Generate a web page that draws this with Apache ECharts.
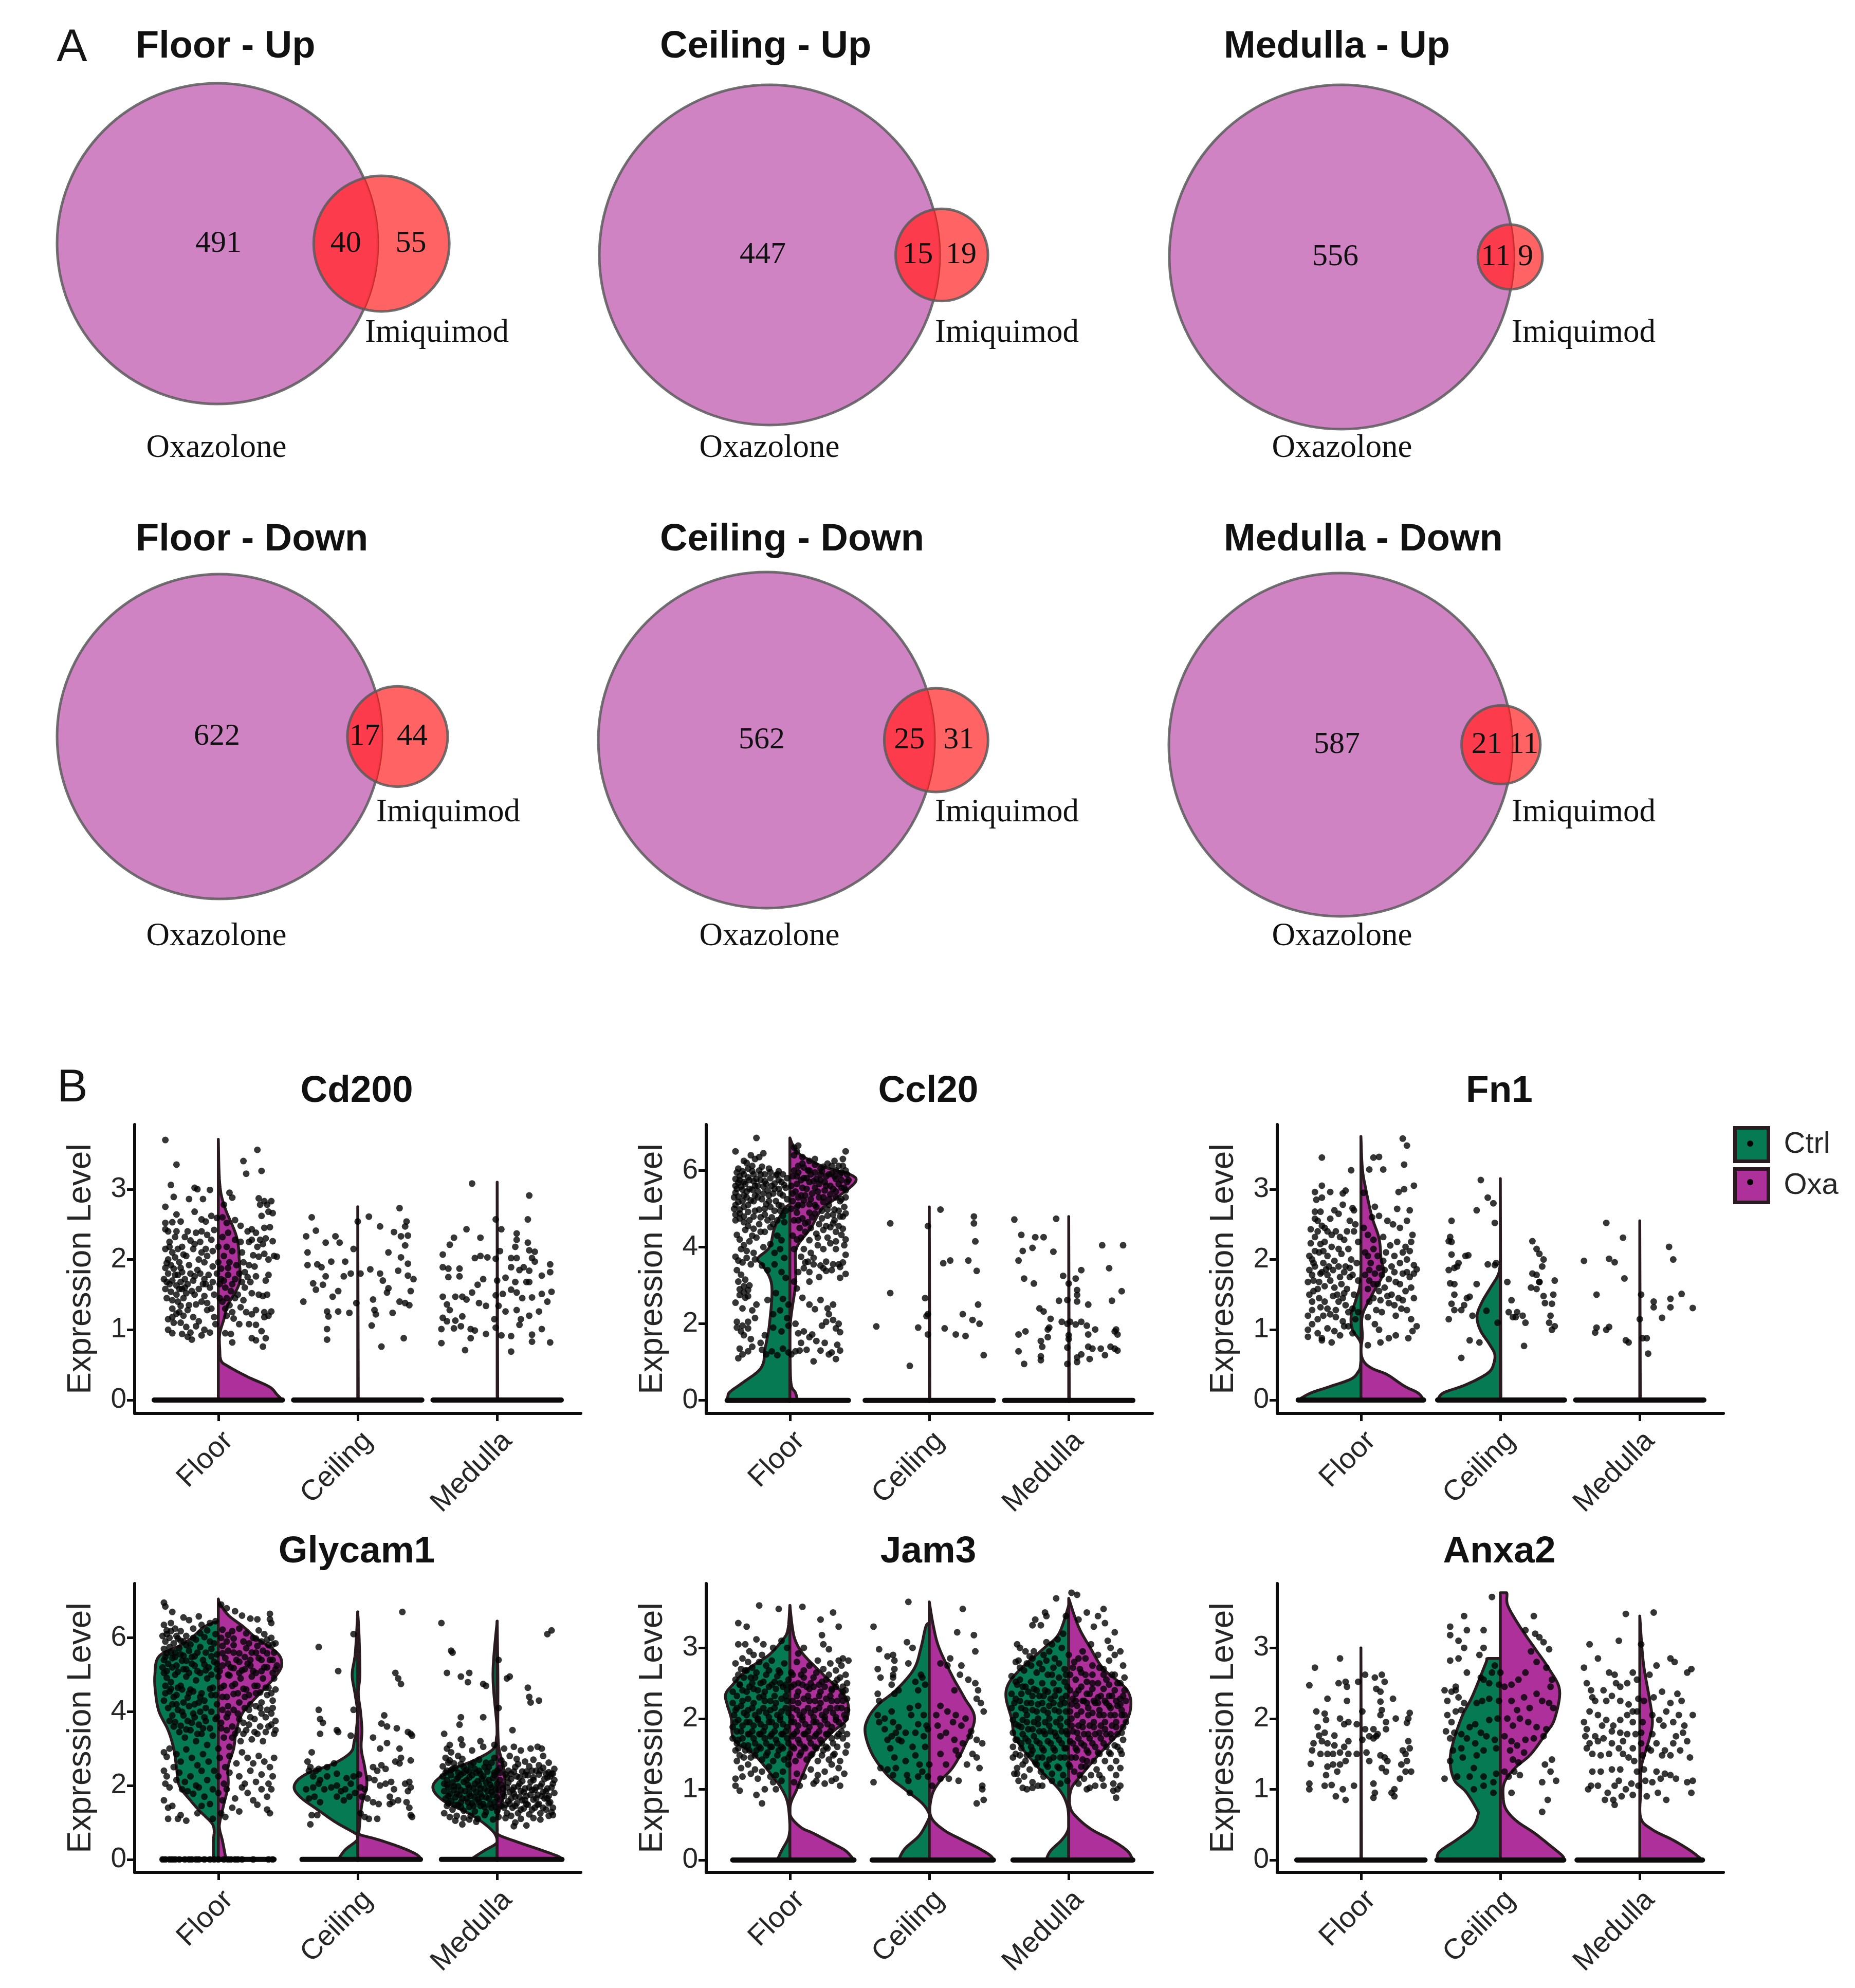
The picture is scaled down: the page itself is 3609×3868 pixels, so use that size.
<!DOCTYPE html>
<html><head><meta charset="utf-8"><style>html,body{margin:0;background:#fff}#c{width:3609px;height:3868px}</style>
<script src="https://cdn.jsdelivr.net/npm/echarts@6/dist/echarts.min.js"></script></head><body><div id="c"></div>
<script>
// ---------- Venn counts
const vennTitles=['Floor - Up','Ceiling - Up','Medulla - Up','Floor - Down','Ceiling - Down','Medulla - Down'];
const oxaOnly=[491,447,556,622,562,587];
const shared=[40,15,11,17,25,21];
const imiOnly=[55,19,9,44,31,11];
// ---------- Violin labels
const regions=['Floor','Ceiling','Medulla'];
const genes=['Cd200','Ccl20','Fn1','Glycam1','Jam3','Anxa2'];
const ticksLow=[0,1,2,3];
const ticksHigh=[0,2,4,6];
// ---------- Violin outlines: [expression, half width]; first row is the width of the flat line at zero
const cd200FloorCtrl=[[0,.46]];
const cd200FloorOxa=[[0,.46],[0,.46],[.08,.42],[.19,.365],[.33,.21],[.48,.07],[.56,.02],[.73,.01],[.94,.01],[1.15,.04],[1.36,.07],[1.66,.15],[2,.15],[2.33,.13],[2.75,.045],[3.08,.01],[3.71,0]];
const cd200CeilCtrl=[[0,.46]];
const cd200CeilOxa=[[0,.46],[0,.004],[2.75,0]];
const cd200MedCtrl=[[0,.46]];
const cd200MedOxa=[[0,.46],[0,.004],[3.1,0]];
const ccl20FloorCtrl=[[0,.45],[0,.45],[.1,.445],[.22,.43],[.47,.335],[.75,.23],[.98,.19],[1.3,.18],[2,.146],[3,.13],[3.5,.19],[3.7,.23],[4,.146],[4.5,.11],[5,.04],[5.1,0]];
const ccl20FloorOxa=[[0,.42],[0,.055],[.2,.04],[.4,.01],[1,.002],[2,.003],[3,.04],[3.5,.04],[4,.05],[4.5,.15],[5,.23],[5.3,.34],[5.7,.47],[5.9,.43],[6.1,.24],[6.4,.08],[6.6,.03],[6.85,0]];
const ccl20CeilCtrl=[[0,.46]];
const ccl20CeilOxa=[[0,.46],[0,.004],[5.05,0]];
const ccl20MedCtrl=[[0,.46]];
const ccl20MedOxa=[[0,.46],[0,.004],[4.8,0]];
const fn1FloorCtrl=[[0,.45],[0,.45],[.1,.36],[.2,.21],[.3,.07],[.4,.02],[.5,.003],[.8,0],[1,.06],[1.2,.07],[1.4,.04],[1.6,.01],[1.8,0]];
const fn1FloorOxa=[[0,.45],[0,.45],[.1,.41],[.2,.31],[.36,.19],[.45,.08],[.55,.02],[.7,0],[.9,.01],[1.2,.01],[1.5,.08],[1.8,.16],[2,.145],[2.3,.13],[2.6,.08],[3,.035],[3.3,.01],[3.75,0]];
const fn1CeilCtrl=[[0,.45],[0,.45],[.1,.41],[.2,.27],[.3,.16],[.4,.08],[.5,.05],[.65,.04],[.8,.08],[1,.145],[1.2,.167],[1.4,.13],[1.6,.07],[1.8,.012],[2,0]];
const fn1CeilOxa=[[0,.46],[0,.004],[3.15,0]];
const fn1MedCtrl=[[0,.46]];
const fn1MedOxa=[[0,.46],[0,.004],[2.55,0]];
const glyFloorCtrl=[[0,.4],[0,.035],[.5,.035],[.8,.03],[1,.05],[1.3,.13],[1.6,.2],[2,.28],[2.5,.3],[3,.32],[3.5,.36],[4,.425],[4.5,.45],[5,.455],[5.5,.425],[5.8,.27],[6,.19],[6.3,.1],[6.45,0]];
const glyFloorOxa=[[0,.4],[0,.055],[.5,.03],[.8,.01],[1,.01],[1.5,.04],[2,.07],[2.5,.07],[3,.11],[3.5,.13],[4,.18],[4.5,.3],[5,.42],[5.3,.455],[5.6,.42],[6,.27],[6.3,.18],[6.6,.075],[6.9,.015],[7.05,0]];
const glyCeilCtrl=[[0,.4],[0,.14],[.26,.09],[.5,.01],[.62,.002],[.7,.015],[1,.155],[1.3,.27],[1.7,.415],[2,.455],[2.3,.375],[2.6,.17],[2.9,.05],[3.2,.025],[3.5,.01],[4,.002],[4.5,.02],[5,.04],[5.5,.02],[6,.01],[6.7,0]];
const glyCeilOxa=[[0,.45],[0,.45],[.08,.44],[.18,.4],[.34,.3],[.54,.143],[.68,.01],[.8,.01],[1.5,.03],[2,.065],[2.5,.05],[3,.025],[3.5,.03],[4,.02],[4.5,.004],[5,.015],[6,.01],[6.7,0]];
const glyMedCtrl=[[0,.4],[0,.19],[.22,.1],[.42,.01],[.55,.001],[.8,.04],[1.2,.18],[1.6,.39],[2,.46],[2.4,.34],[2.7,.155],[3,.025],[3.3,.005],[3.6,.001],[5,.03],[6.45,0]];
const glyMedOxa=[[0,.465],[0,.465],[.08,.44],[.22,.34],[.46,.155],[.66,.013],[.8,.001],[1.2,.005],[1.6,.04],[2,.055],[2.5,.045],[3,.013],[3.5,.005],[4,.005],[5,.005],[6.45,0]];
const jamFloorCtrl=[[0,.41],[0,.09],[.14,.057],[.29,.015],[.4,.002],[.5,0],[.8,.015],[1,.057],[1.2,.13],[1.5,.26],[1.7,.4],[2,.42],[2.2,.45],[2.35,.46],[2.5,.4],[2.7,.3],[2.9,.15],[3.1,.057],[3.25,.015],[3.6,0]];
const jamFloorOxa=[[0,.46],[0,.46],[.13,.4],[.23,.31],[.38,.165],[.46,.08],[.62,.005],[.8,.006],[1,.05],[1.2,.09],[1.5,.165],[1.8,.3],[2,.41],[2.3,.4],[2.6,.25],[2.9,.1],[3.1,.04],[3.3,.017],[3.6,0]];
const jamCeilCtrl=[[0,.41],[0,.22],[.16,.175],[.35,.07],[.58,.004],[.65,0],[.8,.05],[1,.175],[1.2,.3],[1.5,.41],[1.8,.46],[2,.44],[2.2,.365],[2.4,.24],[2.7,.11],[3,.06],[3.3,.025],[3.35,0]];
const jamCeilOxa=[[0,.46],[0,.46],[.06,.44],[.16,.36],[.29,.23],[.43,.1],[.62,.01],[.9,.017],[1.1,.07],[1.3,.165],[1.6,.25],[2,.325],[2.3,.25],[2.6,.165],[3,.07],[3.3,.03],[3.65,0]];
const jamMedCtrl=[[0,.4],[0,.163],[.13,.13],[.29,.047],[.43,.004],[.6,0],[.8,.015],[1,.07],[1.3,.215],[1.7,.375],[2,.41],[2.3,.45],[2.5,.43],[2.7,.345],[3,.175],[3.2,.07],[3.6,0]];
const jamMedOxa=[[0,.46],[0,.46],[.13,.42],[.28,.31],[.43,.165],[.6,.06],[.75,.01],[1,.017],[1.2,.09],[1.5,.22],[1.8,.36],[2.1,.44],[2.4,.42],[2.7,.25],[3,.155],[3.3,.07],[3.7,0]];
const anxFloorCtrl=[[0,.46]];
const anxFloorOxa=[[0,.46],[0,.004],[3,0]];
const anxCeilCtrl=[[0,.455],[0,.455],[.12,.435],[.29,.31],[.46,.2],[.64,.16],[.72,.17],[.96,.245],[1.13,.33],[1.39,.36],[1.65,.34],[2.03,.275],[2.32,.2],[2.78,.105],[2.85,.09],[2.85,0]];
const anxCeilOxa=[[0,.455],[0,.455],[.06,.445],[.2,.36],[.38,.245],[.55,.117],[.72,.04],[.9,.02],[1.1,.03],[1.3,.105],[1.5,.22],[1.8,.33],[2,.39],[2.4,.425],[2.7,.35],[3,.245],[3.3,.14],[3.6,.053],[3.78,.045],[3.78,0]];
const anxMedCtrl=[[0,.45]];
const anxMedOxa=[[0,.45],[0,.45],[.13,.365],[.28,.24],[.43,.09],[.6,.006],[1,.008],[1.3,.01],[1.5,.036],[1.8,.08],[2,.09],[2.3,.068],[2.8,.025],[3.45,0]];
// ---------- Jittered cells: flat lists of offset (hundredths of a category step), expression (hundredths)
const cd200FloorPts=[-38,370,-30,335,-34,306,-32,289,-38,275,-30,264,-17,302,-15,300,-6,299,-21,286,-11,286,-17,268,18,340,28,356,20,322,31,326,-38,252,-33,253,-27,254,-22,240,-12,257,-9,254,-5,262,-1,259,-38,243,-36,240,-31,232,-24,232,-20,227,-17,222,-12,240,-8,235,-5,228,-38,215,-35,218,-33,210,-29,215,-25,207,-18,215,-12,210,-8,205,-4,212,0,218,-36,200,-31,203,-28,196,-14,200,-10,196,-4,190,0,196,-38,188,-36,180,-32,187,-29,178,-26,182,-20,180,-17,176,-13,180,-7,178,-1,180,2,172,-39,172,-37,168,-33,170,-30,163,-27,168,-22,165,-18,170,-11,165,-6,160,-38,158,-34,154,-30,150,-26,158,-23,152,-17,150,-10,148,-8,138,-33,130,-30,123,-27,134,-25,120,-22,128,-16,136,-8,128,-3,118,-36,115,-32,110,-27,110,-23,104,-20,96,-16,105,-12,92,-10,100,-6,96,-2,108,-36,100,-33,95,-26,94,-22,90,-19,86,3,260,6,252,8,295,10,288,4,278,12,256,16,248,21,240,24,243,27,238,29,287,30,278,33,283,35,278,36,268,38,283,39,266,31,262,33,245,37,246,39,226,34,230,30,228,6,218,12,228,17,210,22,225,25,206,29,204,33,208,36,200,40,205,42,204,4,205,8,196,13,192,18,196,22,192,26,190,2,187,7,178,12,172,17,168,21,175,27,176,34,170,36,178,1,165,5,160,9,155,14,150,19,160,24,152,29,150,32,148,35,150,3,140,8,135,12,145,18,142,24,122,27,128,33,125,36,120,38,126,6,120,11,116,15,108,22,108,27,107,33,118,5,95,9,94,24,88,27,85,31,98,34,88,10,82,32,76,-35,225,-30,240,-26,218,-23,205,-16,238,-13,225,-9,215,-3,242,-37,195,-34,192,-27,188,-24,172,-21,192,-15,185,-10,172,-4,168,-35,165,-31,178,-28,158,-24,160,-19,155,-14,158,-9,165,-3,150,1,145,-37,145,-33,142,-29,140,-25,145,-21,135,-12,140,-5,130,4,170,7,188,3,232,7,238,10,212,16,225,19,182,23,168,10,165,15,180,6,145,16,132,20,125,5,130,10,125,28,218,24,228,32,222,-33,118,-28,125,-18,118,-14,112];
const cd200CeilPts=[-33,260,-30,241,-37,233,-36,210,-36,192,-29,193,-26,189,-23,224,-16,233,-13,224,-19,197,-9,197,-3,215,-5,180,-10,176,-39,140,-32,166,-30,157,-25,164,-23,176,-14,155,-18,147,-22,126,-21,119,-14,126,-6,124,-22,101,-22,86,0,254,8,261,16,247,30,273,35,254,34,247,26,239,31,233,36,234,34,220,22,210,31,203,36,194,9,186,2,180,16,180,18,170,22,159,21,153,29,184,36,177,40,172,38,155,30,140,34,138,37,135,-1,138,11,143,12,128,13,122,10,106,25,124,33,88,17,76];
const cd200MedPts=[-18,308,23,291,22,257,-1,257,-22,243,3,243,-12,231,-31,231,-34,221,-39,207,-16,202,-12,205,-7,203,-1,201,2,212,14,237,14,228,13,218,22,224,23,213,27,211,10,202,14,202,25,202,27,197,38,193,38,182,32,177,-39,189,-35,175,-27,187,-27,176,-35,187,-10,172,-14,164,0,170,10,189,16,185,19,189,23,184,6,174,13,168,21,168,23,168,-39,147,-36,136,-34,128,-30,147,-25,147,-22,143,-18,153,-13,138,-8,134,-1,149,4,151,10,157,14,153,18,145,25,146,32,151,39,154,36,140,1,134,-39,117,-36,112,-30,113,-25,119,-26,105,-31,102,-40,101,-19,101,-16,99,-8,94,-2,115,-1,103,6,126,14,128,17,115,23,120,30,126,16,107,32,101,25,93,3,92,10,91,25,83,38,82,-40,81,-19,88,-23,71,10,69];
const ccl20FloorPts=[-24,685,-39,650,-19,645,-28,640,-25,630,-22,635,-33,625,-31,620,-27,612,-20,610,-15,605,-8,598,-38,595,-36,585,-33,590,-30,582,-27,598,-24,578,-21,590,-18,572,-14,580,-11,566,-8,575,-4,562,-39,578,-37,568,-35,558,-32,565,-29,552,-26,572,-23,545,-19,558,-16,548,-12,540,-8,552,-5,535,-39,542,-37,532,-34,520,-31,530,-28,522,-25,535,-20,525,-17,512,-14,505,-10,520,-6,508,-3,495,-39,510,-36,498,-33,505,-30,492,-26,480,-22,498,-18,485,-13,478,-9,470,-5,482,-39,485,-36,475,-33,465,-30,455,-26,448,-22,460,-18,440,-14,452,-9,430,-6,418,-38,432,-36,420,-33,405,-29,415,-24,425,-19,400,-14,408,-11,385,-7,395,-4,372,-39,375,-37,365,-34,360,-31,372,-28,355,-25,368,-20,352,-16,340,-11,355,-6,335,-3,320,-38,340,-35,328,-32,315,-29,300,-36,290,-33,282,-30,272,-39,255,-34,240,-24,250,-27,235,-16,262,-10,280,-5,265,-1,250,-38,205,-34,195,-30,205,-25,215,-12,225,-7,235,-2,215,-38,190,-35,180,-33,170,-30,188,-28,160,-18,170,-12,190,-6,180,-1,195,-36,135,-34,120,-30,128,-27,140,-20,132,-17,120,-13,128,-9,118,-5,135,-1,125,-37,110,-21,150,1,120,4,128,6,665,5,650,3,640,9,635,14,625,18,615,22,605,27,618,32,625,35,612,40,650,38,630,40,600,36,590,33,600,30,592,26,585,22,590,18,595,14,600,10,608,6,612,3,600,5,585,8,575,12,580,17,572,21,565,25,570,29,560,33,578,37,575,41,570,40,548,37,555,33,545,29,538,25,548,21,530,16,540,12,552,8,535,4,545,2,520,6,510,10,522,14,512,19,505,24,518,28,510,32,498,36,520,39,505,40,488,36,480,32,470,27,482,23,475,18,488,13,465,9,475,5,490,3,470,7,450,11,440,15,450,19,435,24,445,29,452,33,440,37,432,40,420,39,405,33,395,29,410,24,395,20,405,15,385,10,395,5,420,3,395,8,375,13,362,17,372,22,352,26,362,31,355,36,348,40,380,38,360,40,330,36,320,26,338,21,322,14,335,10,345,6,335,3,310,5,292,9,268,14,250,18,238,22,262,27,240,31,250,26,205,23,195,31,210,28,225,33,188,35,200,36,178,16,172,10,180,6,175,4,200,8,150,14,165,19,155,22,130,25,150,34,145,36,130,30,125,28,120,33,108,17,102,7,130,12,132];
const ccl20FloorDense=[-37,605,-34,598,-30,605,-26,590,-22,600,-18,590,-14,596,-10,588,-5,590,-39,560,-36,575,-33,570,-29,575,-25,560,-21,575,-17,565,-13,560,-9,590,-6,570,-2,580,-40,530,-38,552,-34,550,-31,545,-27,550,-23,560,-19,540,-15,535,-11,552,-7,540,-3,555,-40,500,-37,518,-33,535,-30,510,-26,520,-23,530,-18,500,-15,520,-11,495,-7,495,-2,525,-39,470,-36,488,-33,480,-29,470,-25,495,-21,478,-16,470,-12,460,-8,510,-4,465,3,660,9,618,13,600,18,630,24,610,30,612,38,612,2,585,6,595,10,580,15,590,19,578,23,598,28,590,32,585,37,595,41,590,1,560,5,565,9,555,14,570,18,555,22,575,26,560,31,552,35,565,39,555,42,575,2,540,6,530,11,535,15,525,20,545,24,530,28,525,33,530,37,525,40,530,1,500,5,505,9,510,14,490,18,510,23,495,27,498,31,485,35,495,38,480,6,470,11,462,16,478,21,460,26,455,31,462,35,455,38,448,-32,445,-27,430,-21,440,-35,395,-31,390,-26,385,8,425,14,418,20,425,27,425,33,415,2,430,11,360,17,355,24,345,30,340,35,355,14,310,-37,310,-33,298,-30,288,-36,275,-32,268];
const ccl20CeilPts=[-28,462,-1,455,8,498,32,480,32,462,33,415,10,358,15,365,28,365,34,338,-28,280,-3,267,-1,225,-2,220,35,250,24,225,31,210,36,200,-38,193,-8,190,-1,172,11,188,19,172,26,168,39,118,-14,90];
const ccl20MedPts=[-39,472,-34,432,-24,426,-18,426,-9,474,-33,390,-26,398,-11,388,-36,365,24,405,39,405,29,345,-32,318,-25,305,-4,325,9,340,5,318,0,305,6,288,6,275,-1,262,-21,240,-18,232,-13,213,-14,190,-7,260,-5,205,6,258,14,250,31,260,38,285,-36,172,-31,180,-15,185,-15,165,-1,200,1,205,0,170,0,160,-1,138,5,198,9,205,13,195,19,185,14,172,17,135,14,140,9,120,6,112,15,108,23,135,30,140,33,135,35,130,35,172,33,180,34,185,-36,128,-32,95,-20,155,-19,140,-20,115,-20,105,-1,95,6,100,26,118];
const fn1FloorPts=[-28,345,-7,327,-28,305,-22,296,-28,288,-32,285,-33,296,-13,294,-11,298,-33,268,-29,268,-19,270,-13,278,-6,273,-5,270,-36,243,-33,258,-31,255,-28,248,-24,240,-16,265,-8,255,-4,250,-36,223,-33,232,-29,222,-26,225,-21,235,-15,232,-12,228,-5,240,-2,225,-37,205,-35,200,-30,210,-27,195,-24,205,-19,198,-14,208,-11,190,-7,200,-3,195,-37,185,-33,190,-29,180,-25,186,-20,185,-15,175,-12,182,-6,178,-2,170,-38,168,-34,170,-30,168,-26,162,-22,170,-19,160,-14,165,-10,158,-5,150,-37,150,-34,155,-30,145,-26,140,-20,148,-16,140,-11,135,-6,130,-2,125,-38,120,-35,128,-31,115,-27,120,-22,122,-18,118,-13,112,-9,105,-4,115,-38,100,-35,108,-31,95,-28,88,-24,102,-19,98,-15,92,-12,105,-6,95,-38,90,-28,85,-21,82,9,345,13,346,30,372,33,362,31,335,16,328,6,328,27,296,31,300,38,305,2,295,10,275,26,272,35,270,8,260,13,262,19,255,23,250,28,245,33,255,37,235,2,245,5,235,9,228,16,232,21,220,26,225,32,218,36,225,3,210,7,195,12,205,16,198,22,190,28,195,33,200,38,192,40,186,3,178,6,170,10,180,15,178,20,172,25,168,30,180,35,175,38,180,5,158,9,165,13,155,17,160,22,150,27,145,32,155,36,160,38,145,6,140,11,128,15,125,20,138,25,120,29,130,33,128,36,115,40,105,5,118,10,108,13,100,25,92,20,88,34,88,37,98,5,78,14,82,-31,240,-26,245,-22,258,-18,240,-10,240,-33,212,-27,212,-21,218,-16,215,-9,215,-34,195,-28,182,-23,190,-16,190,-8,188,-35,178,-31,158,-24,178,-17,150,-12,152,-8,175,-35,140,-29,132,-24,130,-18,128,-13,145,-9,125,5,205,9,215,13,188,18,210,24,205,30,210,35,212,6,185,12,165,17,185,24,182,28,165,33,182,9,145,14,142,19,148,24,135,30,142];
const fn1CeilPts=[-14,313,-9,288,-17,270,-5,280,-4,252,-35,255,-36,232,-35,225,-37,226,-35,207,-25,205,-23,206,-3,195,-30,195,-9,193,-37,185,-33,188,-31,190,-4,192,-36,166,-33,165,-17,165,-33,150,-24,145,-22,147,-35,137,-26,135,-28,128,-33,128,-37,115,-20,120,-10,127,-2,110,5,168,8,142,6,125,12,125,-22,85,-15,82,-28,60,16,120,11,118,9,118,18,110,17,77,22,160,23,180,26,178,28,168,23,226,26,215,28,208,31,200,30,190,28,168,26,158,31,148,32,138,37,137,39,170,38,150,36,120,35,110,39,105,37,100];
const fn1MedPts=[-40,198,-24,252,-22,201,-18,196,-12,231,-31,150,-31,103,-32,96,-22,104,-24,100,-11,173,-10,85,-8,82,1,150,0,115,2,88,5,88,6,66,10,140,10,132,16,117,22,144,22,132,21,218,24,200,30,151,38,131];
const glyFloorPts=[-39,695,-38,685,-33,670,-25,655,-21,648,-14,658,-39,635,-37,620,-34,640,-31,625,-27,618,-23,605,-18,625,-12,635,-6,640,-2,645,2,690,6,680,12,672,17,660,23,652,28,650,37,665,37,650,38,640,-40,605,-38,590,-35,600,-32,585,-29,598,-25,590,-20,582,-16,595,-10,602,-6,590,-2,610,3,622,7,608,11,598,15,625,20,612,25,600,29,620,33,610,38,600,41,585,-39,570,-37,558,-35,575,-31,560,-28,572,-25,552,-21,565,-17,550,-13,575,-9,560,-5,570,-1,555,3,578,7,565,11,580,15,558,20,572,24,560,28,578,32,565,36,580,40,560,-39,540,-36,530,-33,545,-30,525,-26,538,-23,515,-19,530,-15,510,-11,540,-7,520,-3,535,1,510,5,545,9,520,13,540,17,512,21,530,25,510,29,545,33,520,37,540,41,515,-39,505,-37,492,-34,480,-31,500,-27,470,-23,495,-20,460,-16,485,-12,450,-8,490,-4,465,0,495,4,470,8,498,12,475,16,490,20,460,24,495,28,470,32,490,36,465,40,490,-38,470,-35,455,-32,440,-29,465,-25,425,-21,450,-17,420,-13,440,-9,410,-5,445,-1,420,3,440,7,415,11,448,15,425,19,440,23,420,27,450,31,425,35,445,39,430,-39,430,-36,410,-33,390,-30,420,-26,400,-22,375,-18,395,-14,365,-10,385,-6,355,-2,380,2,355,6,385,10,360,14,395,18,370,22,405,26,380,30,410,34,385,38,395,41,375,-35,375,-32,360,-28,345,-24,330,-20,350,-16,320,-12,340,-8,310,-4,335,0,300,4,330,8,305,12,340,16,320,20,350,24,325,28,340,32,320,36,360,40,340,-39,290,-37,278,-35,300,-30,285,-27,265,-23,298,-19,275,-15,255,-11,285,-7,265,-3,240,1,275,5,250,8,280,13,260,17,290,21,275,25,260,29,280,33,265,37,250,40,275,-39,240,-37,225,-32,250,-28,235,-24,210,-20,225,-16,200,-12,240,-8,215,-4,190,0,225,4,205,8,235,15,225,19,205,23,240,27,210,31,230,36,205,39,225,-38,205,-35,195,-30,215,-26,190,-22,185,-18,178,-14,195,-10,170,-6,150,0,180,3,160,6,190,12,165,17,195,21,180,25,160,31,190,35,170,38,190,-39,160,-36,140,-33,145,-27,120,-23,105,-12,145,-4,110,5,115,10,140,15,130,28,148,35,135,37,125,-36,110,-29,110,-15,125,2,125,-40,0,-38,0,-35,0,-33,0,-31,0,-28,0,-24,0,-21,0,-19,0,-16,0,-14,0,-10,0,-6,0,-3,0,0,0,4,0,7,0,9,0,12,0,14,0,17,0,25,0,36,0,39,0];
const glyFloorDense=[-37,610,-34,618,-30,605,-27,592,-23,580,-18,600,-13,612,-8,620,-3,585,2,600,6,590,10,618,18,590,22,585,27,598,31,590,35,595,39,582,-38,548,-34,560,-31,548,-27,555,-23,538,-19,548,-15,560,-10,528,-5,550,-1,530,3,558,7,530,11,560,15,535,19,548,23,540,27,560,31,540,35,558,39,540,-40,520,-37,510,-33,520,-29,508,-25,515,-21,505,-17,525,-13,505,-9,512,-5,500,-1,515,3,525,7,500,11,518,15,505,19,515,23,525,27,505,31,510,35,520,39,505,42,525,-38,450,-34,462,-30,445,-26,460,-22,438,-18,455,-14,425,-10,430,-6,462,-2,445,2,465,6,440,10,470,14,450,18,462,22,445,26,470,30,452,34,465,38,450,41,460,-33,420,-29,405,-25,390,-21,415,-17,385,-13,400,-9,375,-5,400,-1,385,3,405,7,395,11,405,15,380,19,410,23,385,27,415,31,395,35,405,39,410,-31,372,-27,362,-23,352,-19,370,-15,340,-11,355,2,370,6,350,10,330,14,350,18,340,22,365,26,345,30,360,34,345,38,365,41,350];
const glyCeilPts=[-3,610,32,670,-28,575,-14,510,27,505,29,490,31,475,-28,405,-3,405,-27,380,-25,370,-15,350,-14,345,-27,340,-5,335,19,390,17,368,21,360,28,355,36,345,38,340,39,335,11,330,21,315,16,300,30,300,-33,290,-36,265,-34,250,-30,240,-28,245,-22,250,-17,260,-35,240,-32,225,-27,215,-22,225,-15,232,-8,220,-3,225,1,230,11,250,14,240,17,255,20,245,27,265,30,260,38,268,31,275,-37,190,-32,195,-28,205,-24,190,-19,195,-15,200,-12,185,-9,190,-5,205,-2,180,2,195,5,190,8,220,12,215,16,200,20,205,24,210,26,190,34,205,37,210,38,195,36,185,-35,165,-31,170,-27,155,-15,170,-10,160,-6,170,3,170,7,165,11,155,15,150,23,170,25,155,29,160,35,155,37,140,39,115,-33,120,-29,120,-34,95,2,125,5,115,8,110,14,110,23,150,38,120];
const glyMedPts=[-40,640,-33,565,-32,560,-36,505,-26,495,-20,505,-21,480,-10,475,-8,470,1,540,7,490,9,495,22,465,23,440,30,430,24,425,39,620,36,610,-26,385,-27,365,-10,385,-38,340,-26,325,-12,320,-34,310,-25,310,1,410,11,350,-36,300,-33,290,-28,280,-18,295,-10,305,-2,310,5,300,12,305,17,295,24,300,29,305,32,300,-37,275,-34,268,-31,260,-25,272,-19,255,-13,270,-8,262,-2,275,3,268,9,280,14,272,20,265,26,270,33,280,37,262,-39,252,-36,240,-32,245,-28,235,-24,250,-20,238,-16,245,-12,232,-6,250,-2,235,2,248,8,240,13,250,18,238,23,252,28,240,33,248,37,236,41,245,-39,225,-36,215,-33,228,-29,218,-26,230,-22,215,-18,228,-14,212,-10,225,-6,215,-2,228,2,215,6,230,10,218,14,225,18,212,22,228,26,215,30,230,34,218,38,225,41,215,-38,205,-35,195,-32,208,-28,198,-24,210,-20,195,-16,205,-12,192,-8,208,-4,195,0,205,4,192,8,208,12,195,16,205,20,192,24,210,28,195,32,205,36,192,40,205,-38,185,-34,178,-31,188,-27,175,-23,185,-19,172,-15,182,-11,170,-7,185,-3,175,1,188,5,172,9,182,13,170,17,185,21,172,25,188,29,175,33,182,37,172,41,180,-37,165,-33,158,-30,168,-26,155,-22,165,-18,152,-14,162,-10,150,-6,165,-2,155,2,162,6,148,10,165,14,152,18,160,22,148,26,162,30,150,34,165,38,155,40,140,-36,145,-32,135,-28,148,-24,132,-20,142,-16,130,-12,145,-8,128,-4,140,0,130,3,145,7,125,11,140,15,125,19,138,23,122,27,140,31,125,35,135,39,128,-38,125,-34,115,-29,118,-24,112,-19,118,-14,110,-9,120,-3,108,1,115,6,112,10,118,13,100,17,110,21,92,26,112,31,108,37,118,40,120,-30,105,-20,108,-15,102,-25,95,12,90];
const glyMedDense=[-35,262,-30,248,-26,258,-22,242,-17,262,-13,240,-9,250,-4,262,0,240,5,258,10,232,15,258,20,228,25,240,30,255,35,232,39,232,-37,235,-33,242,-28,222,-24,235,-20,222,-15,235,-11,218,-7,238,-3,220,2,235,7,222,12,238,16,222,21,238,26,222,31,240,36,222,40,232,-36,202,-31,198,-26,188,-21,202,-17,192,-13,202,-9,192,-5,202,-1,190,3,202,7,195,11,188,15,198,19,182,23,195,27,188,31,198,35,185,39,195,-35,172,-29,178,-25,165,-20,178,-16,168,-12,178,-8,168,-4,182,0,168,4,178,8,158,12,178,16,168,20,160,24,175,28,165,32,172,36,165,-35,152,-30,148,-26,142,-21,155,-17,145,-13,155,-9,142,-5,150,-1,142,5,140,9,150,13,145,17,135,21,150,25,135,29,148,33,140,37,152];
const jamFloorPts=[-22,360,-8,355,9,358,-37,335,-31,330,-24,312,-19,305,22,340,31,350,35,330,-37,305,-32,305,-29,295,-34,285,-30,280,-26,290,-20,290,-12,300,-6,310,-2,300,6,292,10,300,23,318,24,305,28,298,35,282,38,285,42,282,-39,278,-35,270,-31,268,-27,272,-22,280,-17,275,-13,282,-8,268,-4,278,1,265,5,280,10,268,14,275,20,282,24,270,29,278,33,268,37,275,40,262,-39,255,-36,248,-33,258,-29,245,-25,258,-21,250,-17,262,-13,248,-9,260,-5,245,-1,255,3,248,8,262,12,245,17,258,21,248,26,255,30,242,34,255,38,245,41,250,-41,238,-38,232,-34,240,-30,228,-26,242,-22,230,-18,238,-14,225,-10,242,-6,228,-2,240,2,225,6,238,10,228,14,242,18,225,22,238,26,228,30,240,34,225,38,238,41,228,-41,222,-38,215,-34,225,-30,212,-26,222,-22,210,-18,225,-14,212,-10,222,-6,210,-2,225,2,215,6,222,10,210,14,225,18,212,22,222,26,210,30,225,34,215,38,225,41,212,-40,205,-37,198,-33,208,-29,195,-25,205,-21,192,-17,208,-13,195,-9,205,-5,192,-1,208,3,195,7,205,11,192,15,208,19,195,23,205,27,192,31,208,35,195,39,205,-41,188,-38,182,-34,190,-30,178,-26,190,-22,178,-18,188,-14,175,-10,190,-6,178,-2,188,2,175,6,190,10,178,14,188,18,175,22,190,26,178,30,188,34,175,38,190,41,178,-41,172,-38,165,-34,172,-30,162,-26,172,-22,160,-18,172,-14,160,-10,170,-6,160,-2,172,2,160,6,170,10,160,14,172,18,160,22,170,26,160,30,172,34,160,38,172,41,162,-39,155,-36,148,-32,155,-28,145,-24,155,-20,142,-16,152,-12,140,-8,155,-4,142,0,150,4,140,8,152,12,142,16,150,20,140,24,155,28,142,32,150,36,140,40,152,-38,140,-35,130,-30,135,-25,128,-20,125,-15,132,-10,120,-5,125,-1,135,5,122,10,118,15,128,20,120,25,125,30,135,35,130,39,122,-39,115,-34,118,-28,122,-23,115,-18,100,-12,110,-6,112,3,110,7,105,17,108,19,112,25,108,30,112,33,115,36,105,-39,105,-36,98,-24,92,-20,80,-14,118,-10,100];
const jamFloorDense=[-37,262,-32,268,-28,258,-24,265,-19,252,-15,268,-11,252,-7,265,-3,248,2,262,6,250,10,258,15,250,19,265,23,252,28,262,32,250,36,258,-36,248,-31,238,-27,250,-23,240,-19,232,-15,245,-11,232,-7,250,-3,232,1,245,5,232,9,248,13,232,17,245,21,232,25,245,29,232,33,245,37,232,40,240,-39,212,-35,218,-31,205,-27,215,-23,200,-19,215,-15,202,-11,215,-7,202,-3,215,1,202,5,212,9,202,13,215,17,202,21,215,25,202,29,215,33,202,37,215,40,200,-39,195,-35,182,-31,195,-27,182,-23,198,-19,182,-15,195,-11,182,-7,198,-3,182,1,195,5,182,9,198,13,182,17,195,21,182,25,198,29,182,33,198,37,182,-37,170,-33,162,-29,178,-25,165,-21,178,-17,165,-13,178,-9,165,-5,178,-1,165,3,178,7,165,11,178,15,165,19,178,23,165,27,178,31,165,35,178,-37,158,-33,145,-29,155,-25,148,-21,158,-17,148,-13,160,-9,148,-5,158,-1,145,3,158,7,148,11,158,15,148,19,158,23,148,27,158,31,148];
const jamCeilPts=[-15,365,24,355,-40,330,-36,298,-16,308,20,322,32,318,-26,290,-25,282,-30,288,-12,300,-25,270,-26,262,15,285,23,275,33,295,-37,270,-35,258,-26,258,-27,248,-15,278,-6,262,8,278,13,275,-37,235,-36,225,-25,235,-22,240,-10,252,-5,258,-3,248,-8,240,18,240,22,262,28,255,33,250,35,240,34,228,37,222,39,210,-37,205,-36,195,-32,200,-27,210,-26,195,-24,180,-22,188,-14,215,-13,205,-8,218,-4,205,-2,190,-32,185,-30,170,-27,175,-22,170,-17,180,-10,180,-8,192,-4,175,-1,185,5,205,8,218,13,210,17,195,19,205,23,190,26,200,29,175,6,190,8,175,12,180,18,170,24,165,30,182,34,170,38,165,-28,158,-25,145,-20,168,-17,140,-12,160,-10,148,-7,135,-3,160,0,135,8,150,12,135,21,148,19,155,27,135,31,150,34,145,36,130,-35,130,-30,128,-26,120,-24,130,-16,120,-15,112,-8,118,-5,125,-1,118,2,105,8,115,14,115,21,112,38,105,38,100,-40,110,-14,95,34,80,39,85];
const jamMedPts=[-9,370,2,378,6,375,-17,350,-16,345,-24,340,-20,332,-26,332,18,330,-2,345,7,340,13,350,25,355,21,345,26,335,-4,320,-16,308,-12,305,-8,312,10,295,16,305,28,310,30,300,33,322,-37,305,-35,300,-31,295,-28,288,-25,295,-18,290,-14,295,-10,285,-5,300,0,290,4,280,8,270,12,285,17,275,21,290,25,270,29,282,33,290,37,295,39,275,-38,280,-35,272,-32,268,-27,275,-23,265,-19,270,-15,262,-11,272,-7,258,-3,270,1,262,5,255,9,265,13,252,17,262,21,250,25,262,29,248,33,262,37,250,40,258,-41,260,-38,252,-35,255,-31,245,-27,252,-23,240,-19,250,-15,238,-11,250,-7,240,-3,252,1,240,5,235,9,245,13,235,17,242,21,230,25,242,29,232,33,240,37,228,40,240,-41,235,-38,228,-34,235,-30,222,-26,232,-22,220,-18,232,-14,218,-10,232,-6,220,-2,232,2,220,6,218,10,225,14,215,18,225,22,212,26,225,30,215,34,225,38,212,41,225,-41,215,-38,205,-34,215,-30,205,-26,212,-22,200,-18,212,-14,200,-10,212,-6,200,-2,210,2,200,6,205,10,195,14,205,18,195,22,205,26,195,30,205,34,195,38,205,41,195,-40,198,-36,190,-33,198,-29,185,-25,195,-21,182,-17,195,-13,182,-9,195,-5,182,-1,195,3,182,7,190,11,178,15,190,19,178,23,190,27,178,31,190,35,178,39,188,-40,180,-37,170,-33,178,-29,168,-25,175,-21,165,-17,178,-13,165,-9,175,-5,165,-1,178,3,165,7,172,11,162,15,172,19,160,23,172,27,160,31,172,35,160,39,170,-40,160,-38,150,-34,158,-30,148,-26,155,-22,145,-18,155,-14,142,-10,155,-6,145,-2,158,2,145,6,155,10,142,14,152,18,140,22,150,26,140,30,150,34,140,38,150,-40,145,-37,130,-33,135,-28,128,-24,138,-20,125,-16,135,-12,122,-8,132,-4,120,0,135,4,125,8,120,12,132,16,120,20,128,24,115,30,130,34,120,37,130,-37,122,-36,112,-32,118,-26,110,-22,105,-18,118,-12,112,-6,108,-1,112,7,108,11,115,13,100,22,120,25,105,32,108,32,98,-39,122,-30,100,-26,102,-33,102,-19,105,19,105,15,102,35,100,37,105,34,88];
const jamMedDense=[-36,282,-30,278,-26,285,-21,278,-16,282,-12,262,-7,278,-2,262,3,272,7,285,12,262,17,250,22,272,27,255,31,262,35,250,-37,248,-33,245,-29,238,-25,242,-21,232,-17,240,-13,228,-9,240,-5,228,-1,245,3,228,7,240,11,225,15,235,19,222,23,232,27,222,31,232,35,218,39,232,-39,222,-35,225,-31,212,-27,222,-23,210,-19,222,-15,208,-11,222,-7,210,-3,222,1,210,5,225,9,210,13,222,17,208,21,222,25,205,29,218,33,205,37,220,40,205,-38,192,-34,188,-30,195,-26,185,-22,192,-18,182,-14,190,-10,180,-6,190,-2,182,2,190,6,180,10,188,14,178,18,188,22,180,26,185,30,178,34,188,38,180,-38,170,-34,165,-31,172,-27,160,-23,168,-19,158,-15,168,-11,158,-7,170,-3,158,1,168,5,158,9,165,13,155,17,165,21,152,25,165,29,152,33,162,37,155,-35,148,-31,140,-27,150,-23,135,-19,145,-15,132,-11,145,-7,130,-3,145,1,132,5,145,9,132,13,140];
const anxFloorPts=[-37,247,-33,272,-15,285,-16,250,-10,245,-11,252,-2,252,3,262,10,258,11,242,15,262,17,252,14,238,-24,228,-10,225,14,224,15,212,23,228,-32,210,-26,207,-25,198,-15,200,-9,195,1,210,14,205,-31,188,-30,176,-26,180,-19,176,-12,192,-3,192,3,185,9,185,11,175,18,195,18,185,25,200,35,208,33,194,34,200,-34,165,-28,168,-24,165,-19,162,-12,160,-9,168,1,170,6,175,9,172,12,178,-35,155,-29,150,-24,150,-20,150,-15,152,-9,150,-3,150,4,152,14,148,17,145,19,140,30,155,34,168,35,158,32,150,-36,136,-24,132,-20,135,-17,125,-15,135,-11,140,6,140,15,130,18,125,29,135,33,140,-25,120,-26,105,-21,106,-13,100,-5,105,9,108,10,95,24,100,28,115,32,125,36,125,-37,108,-37,100,-18,90,-11,85,9,88,22,95,24,90];
const anxCeilPts=[-6,372,-26,345,-24,325,-12,325,-36,330,-36,318,-30,310,-12,300,-26,300,-15,290,-30,285,-36,282,-24,265,-32,245,-32,240,-14,258,-6,265,-4,275,0,265,24,345,18,325,25,320,28,315,31,308,35,298,22,295,-12,255,-8,250,-1,248,-40,240,-35,238,-38,225,-30,230,-26,222,-17,222,-13,225,-8,228,-1,225,3,245,8,248,13,255,18,265,26,280,33,272,37,255,36,245,-38,205,-35,195,-32,210,-28,212,-22,188,-18,192,-14,180,-8,198,-2,200,8,225,12,212,17,230,21,215,26,235,30,225,35,222,38,215,5,200,9,190,14,200,20,195,26,188,31,175,33,185,-39,182,-36,172,-33,180,-28,178,-24,172,-18,165,-10,175,-4,170,3,175,8,168,12,162,18,170,24,172,-34,155,-28,158,-17,148,-12,155,-3,158,7,155,9,142,13,138,17,152,-36,140,-27,145,-19,130,-12,118,-5,110,-3,122,3,125,6,118,10,125,14,120,-40,115,-31,118,-22,118,-19,100,-12,105,32,135,37,142,36,125,40,112,30,110,34,85,30,68,-5,95,8,95];
const anxMedPts=[-10,348,10,350,-36,305,-15,310,1,305,-30,285,22,285,25,280,12,275,-40,272,-22,265,-18,262,-5,265,-17,250,-14,245,-9,250,34,265,37,270,-2,255,7,262,-38,250,-35,240,-34,230,-32,225,-26,240,-24,225,-20,232,-14,225,-8,220,-5,210,-1,228,3,225,10,230,16,238,22,222,27,235,30,225,-36,210,-30,205,-24,198,-19,190,-14,198,-9,205,-5,195,-2,210,2,195,9,205,14,198,19,210,24,195,28,205,32,190,38,205,-40,195,-38,185,-32,175,-27,190,-20,182,-14,180,-9,178,-3,178,1,180,9,178,17,190,26,175,31,180,-39,175,-36,165,-30,168,-26,172,-20,165,-15,158,-12,168,-5,158,1,165,6,158,12,165,18,155,24,165,34,168,-38,158,-34,150,-28,148,-22,150,-12,150,-8,145,-4,140,2,148,8,155,16,148,22,148,29,155,36,145,-20,128,-14,128,-2,125,3,128,12,125,18,122,22,120,-34,125,-28,125,-18,105,-15,112,-10,100,-6,108,-1,105,4,112,9,110,15,115,26,115,34,110,38,112,-37,100,-35,105,-30,105,-23,95,-13,90,-5,92,5,90,13,95,19,85,37,95,-25,85,-19,85,-18,78];
// ---------- Layout only
const C={ctrl:'#067B53',oxa:'#AE319B',line:'#2A1B20',ax:'#0c0c0c',txt:'#262626'};
const vennBox=[[423,474,312],[1497,496,331],[2610,500,335],[427,1433,316],[1491,1440,327],[2608,1449,334]];
const oxaNumX=[425,1484,2598,422,1482,2601];
const oxaLabelPos=[[421,872],[1497,872],[2611,872],[421,1822],[1497,1822],[2611,1822]];
const imiLabelPos=[[850,648],[1959,648],[3081,648],[872,1581],[1959,1581],[3081,1581]];
const vennTitleX=[264,1284,2381];
const vennTitleY=[92,1051];
const geneGridX=[262,1374,2485], geneGridY=[2188,3081];
const GW=868,GH=562;
const panels=[
 {y:[-.19,3.92],t:ticksLow,v:[[cd200FloorCtrl,cd200FloorOxa],[cd200CeilCtrl,cd200CeilOxa],[cd200MedCtrl,cd200MedOxa]],p:[cd200FloorPts,cd200CeilPts,cd200MedPts]},
 {y:[-.34,7.2],t:ticksHigh,v:[[ccl20FloorCtrl,ccl20FloorOxa],[ccl20CeilCtrl,ccl20CeilOxa],[ccl20MedCtrl,ccl20MedOxa]],p:[ccl20FloorPts.concat(ccl20FloorDense),ccl20CeilPts,ccl20MedPts]},
 {y:[-.19,3.92],t:ticksLow,v:[[fn1FloorCtrl,fn1FloorOxa],[fn1CeilCtrl,fn1CeilOxa],[fn1MedCtrl,fn1MedOxa]],p:[fn1FloorPts,fn1CeilPts,fn1MedPts]},
 {y:[-.35,7.47],t:ticksHigh,v:[[glyFloorCtrl,glyFloorOxa],[glyCeilCtrl,glyCeilOxa],[glyMedCtrl,glyMedOxa]],p:[glyFloorPts.concat(glyFloorDense),glyCeilPts,glyMedPts.concat(glyMedDense)]},
 {y:[-.175,3.91],t:ticksLow,v:[[jamFloorCtrl,jamFloorOxa],[jamCeilCtrl,jamCeilOxa],[jamMedCtrl,jamMedOxa]],p:[jamFloorPts.concat(jamFloorDense),jamCeilPts,jamMedPts.concat(jamMedDense)]},
 {y:[-.175,3.91],t:ticksLow,v:[[anxFloorCtrl,anxFloorOxa],[anxCeilCtrl,anxCeilOxa],[anxMedCtrl,anxMedOxa]],p:[anxFloorPts,anxCeilPts,anxMedPts]}
];
const SANS='"Liberation Sans",Arial,sans-serif', SERIF='"Liberation Serif","Times New Roman",serif';
const grid=[],xAxis=[],yAxis=[],series=[],graphic=[];
function addText(text,x,y,o){graphic.push({type:'text',x,y,silent:true,style:Object.assign({text,fill:'#111',align:'center',verticalAlign:'middle',fontFamily:SANS,fontSize:60},o)});}
// Venn: circle areas follow the counts
function lensArea(r1,r2,d){
  if(d>=r1+r2)return 0; if(d<=Math.abs(r1-r2))return Math.PI*Math.min(r1,r2)**2;
  const a=r1*r1*Math.acos((d*d+r1*r1-r2*r2)/(2*d*r1)),b=r2*r2*Math.acos((d*d+r2*r2-r1*r1)/(2*d*r2));
  return a+b-.5*Math.sqrt((-d+r1+r2)*(d+r1-r2)*(d-r1+r2)*(d+r1+r2));
}
vennTitles.forEach((name,i)=>{
  const r1=Math.sqrt((oxaOnly[i]+shared[i])/Math.PI),r2=Math.sqrt((imiOnly[i]+shared[i])/Math.PI);
  let lo=r1-r2,hi=r1+r2; for(let k=0;k<60;k++){const m=(lo+hi)/2; if(lensArea(r1,r2,m)>shared[i])lo=m; else hi=m;}
  const d=(lo+hi)/2,[cx,cy,R]=vennBox[i],g=grid.length;
  grid.push({left:cx-R,top:cy-R,width:2*R,height:2*R});
  xAxis.push({type:'value',gridIndex:g,min:-r1,max:r1,show:false});
  yAxis.push({type:'value',gridIndex:g,min:-r1,max:r1,show:false});
  series.push({type:'custom',name:name,xAxisIndex:g,yAxisIndex:g,silent:true,clip:false,data:[[0,0]],encode:{x:0,y:1},
    renderItem(p,api){
      const c=api.coord([0,0]),c2=api.coord([d,0]),pr=api.size([1,0])[0],stroke='rgba(90,90,90,.85)';
      const a1=Math.acos((d*d+r1*r1-r2*r2)/(2*d*r1)),a2=Math.acos((d*d+r2*r2-r1*r1)/(2*d*r2));const lens=[];
      for(let t=-40;t<=40;t++)lens.push([c[0]+r1*pr*Math.cos(a1*t/40),c[1]+r1*pr*Math.sin(a1*t/40)]);
      for(let t=-40;t<=40;t++)lens.push([c2[0]-r2*pr*Math.cos(a2*t/40),c2[1]-r2*pr*Math.sin(a2*t/40)]);
      const num=(s,x)=>({type:'text',style:{text:String(s),x,y:c[1],align:'center',verticalAlign:'middle',fontFamily:SERIF,fontSize:60,fill:'#111'}});
      const xL=c2[0]-r2*pr,xM=c[0]+r1*pr,xR=c2[0]+r2*pr;
      return {type:'group',children:[
        {type:'circle',shape:{cx:c[0],cy:c[1],r:r1*pr},style:{fill:'#D083C3',stroke,lineWidth:5}},
        {type:'circle',shape:{cx:c2[0],cy:c2[1],r:r2*pr},style:{fill:'rgba(255,0,0,.61)',stroke:'none'}},
        {type:'polygon',shape:{points:lens},style:{fill:'rgba(255,62,78,.8)',stroke:'none'}},
        {type:'circle',shape:{cx:c2[0],cy:c2[1],r:r2*pr},style:{fill:'none',stroke,lineWidth:5}},
        num(oxaOnly[i],oxaNumX[i]),num(shared[i],(xL+xM)/2),num(imiOnly[i],(xM+xR)/2-5)]};
    }});
  addText('Oxazolone',oxaLabelPos[i][0],oxaLabelPos[i][1],{fontFamily:SERIF,fontSize:63});
  addText('Imiquimod',imiLabelPos[i][0],imiLabelPos[i][1],{fontFamily:SERIF,fontSize:63});
  addText(name,vennTitleX[i%3],vennTitleY[i<3?0:1],{align:'left',fontWeight:'bold',fontSize:74});
});
// Outline of one half violin: curve through the read rows, kept on its own side
function curve(rows){
  const out=[];
  for(let i=0;i<rows.length-1;i++){
    const a=rows[Math.max(i-1,0)],b=rows[i],c=rows[i+1],e=rows[Math.min(i+2,rows.length-1)];
    for(let k=0;k<8;k++){const t=k/8,t2=t*t,t3=t2*t;
      const f=q=>.5*(2*b[q]+(c[q]-a[q])*t+(2*a[q]-5*b[q]+4*c[q]-e[q])*t2+(3*b[q]-a[q]-3*c[q]+e[q])*t3);
      out.push([Math.min(Math.max(f(0),b[0]),c[0]),Math.max(f(1),0)]);}
  }
  out.push(rows[rows.length-1]);return out;
}
function violinItem(profile,region,side,fill){
  return function(p,api){
    const kids=[],base=profile[0][1];
    if(profile.length>1){
      const pts=curve(profile.slice(1)).map(r=>api.coord([region+side*r[1],r[0]]));
      const c0=api.coord([region,profile[1][0]]),c1=api.coord([region,profile[profile.length-1][0]]);
      kids.push({type:'polygon',shape:{points:[c0,...pts,c1]},style:{fill,stroke:C.line,lineWidth:5.5,lineJoin:'round'}});
    }
    const a=api.coord([region,0]),b=api.coord([region+side*base,0]);
    kids.push({type:'line',shape:{x1:a[0],y1:a[1],x2:b[0],y2:b[1]},style:{stroke:'#0d0a0b',lineWidth:10,lineCap:'round'}});
    return {type:'group',children:kids};
  };
}
panels.forEach((pn,i)=>{
  const g=grid.length,col=i%3,row=i<3?0:1;
  grid.push({left:geneGridX[col],top:geneGridY[row],width:GW,height:GH});
  xAxis.push({type:'value',gridIndex:g,min:.4,max:3.6,splitLine:{show:false},
    axisLine:{onZero:false,lineStyle:{color:C.ax,width:6}},
    axisTick:{customValues:[1,2,3],length:15,lineStyle:{color:C.ax,width:5}},
    axisLabel:{customValues:[1.074,2.074,3.074],formatter:v=>regions[Math.round(v)-1]||'',rotate:45,margin:45,fontSize:56,fontFamily:SANS,color:C.txt}});
  yAxis.push({type:'value',gridIndex:g,min:pn.y[0],max:pn.y[1],splitLine:{show:false},
    name:'Expression Level',nameLocation:'middle',nameRotate:90,nameGap:72,nameTextStyle:{fontSize:64,fontFamily:SANS,color:C.txt},
    axisLine:{onZero:false,lineStyle:{color:C.ax,width:6}},
    axisTick:{customValues:pn.t,length:15,lineStyle:{color:C.ax,width:5}},
    axisLabel:{customValues:pn.t,margin:16,fontSize:55,fontFamily:SANS,color:C.txt}});
  pn.v.forEach((pair,r)=>{
    [['Ctrl',-1,C.ctrl],['Oxa',1,C.oxa]].forEach(([nm,side,fill],s)=>{
      series.push({type:'custom',name:nm,xAxisIndex:g,yAxisIndex:g,silent:true,clip:false,z:2,itemStyle:{color:fill},
        data:[[r+1,0]],encode:{x:0,y:1},renderItem:violinItem(pair[s],r+1,side,fill)});
    });
  });
  const data=[];
  pn.p.forEach((flat,r)=>{for(let k=0;k<flat.length;k+=2)data.push([r+1+flat[k]/100,flat[k+1]/100]);});
  series.push({type:'scatter',name:genes[i]+' cells',xAxisIndex:g,yAxisIndex:g,silent:true,z:3,symbolSize:13,large:false,animation:false,itemStyle:{color:'#040404'},data});
  addText(genes[i],geneGridX[col]+GW/2-2,row?3020:2124,{fontWeight:'bold',fontSize:73});
});
addText('A',140,94,{fontSize:89,fill:'#151515'});
addText('B',141,2118,{fontSize:89,fill:'#151515'});
graphic.push({type:'circle',z:100,silent:true,shape:{cx:3405,cy:2225,r:6},style:{fill:'#050505'}});
graphic.push({type:'circle',z:100,silent:true,shape:{cx:3405,cy:2300,r:6},style:{fill:'#050505'}});
const chart=echarts.init(document.getElementById('c'),null,{renderer:'canvas'});
chart.setOption({animation:false,backgroundColor:'#fff',grid,xAxis,yAxis,series,graphic,
  legend:{show:true,left:3372,top:2191,padding:0,orient:'vertical',itemWidth:65,itemHeight:65,itemGap:8,selectedMode:false,icon:'rect',
    data:[{name:'Ctrl',itemStyle:{color:C.ctrl,borderColor:C.line,borderWidth:7}},{name:'Oxa',itemStyle:{color:C.oxa,borderColor:C.line,borderWidth:7}}],
    textStyle:{fontSize:58,fontFamily:SANS,color:C.txt,padding:[0,0,0,25]}}});
</script></body></html>
